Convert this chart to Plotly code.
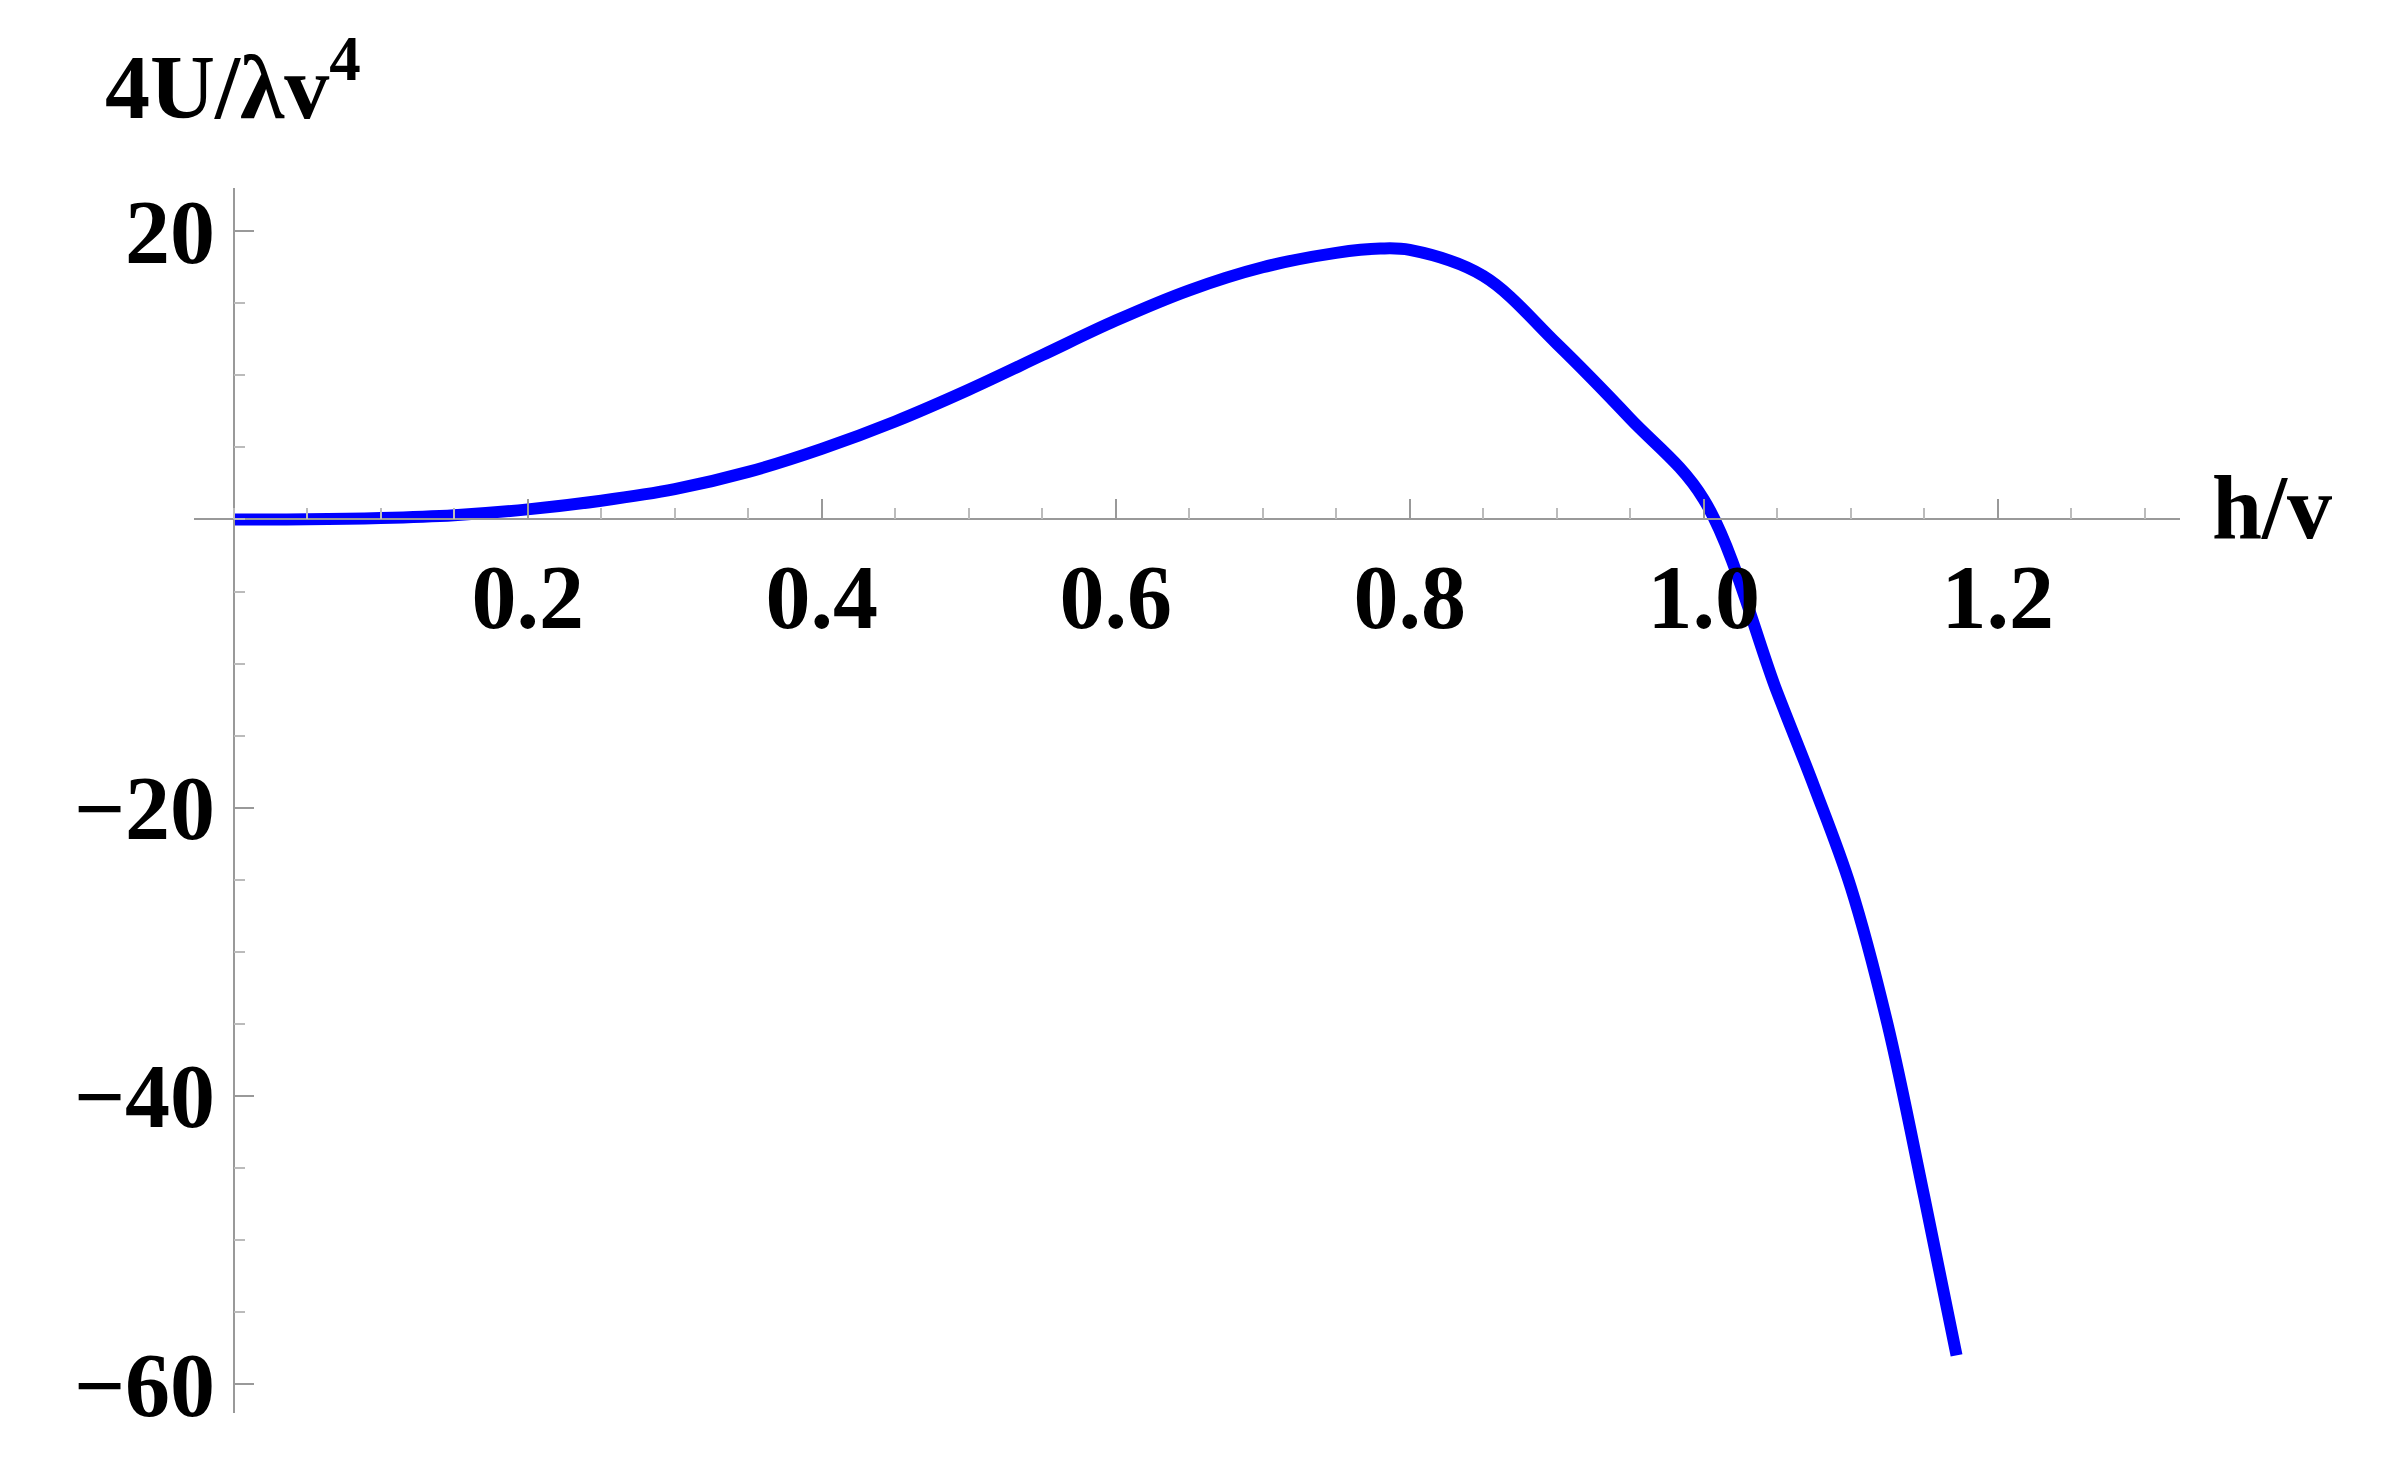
import plotly.graph_objects as go

h = [0.0, 0.05, 0.1, 0.15, 0.2, 0.25, 0.3, 0.35, 0.4, 0.45, 0.5, 0.55, 0.6, 0.65, 0.7, 0.75, 0.78, 0.8, 0.85, 0.9, 0.95, 1.0, 1.05, 1.075, 1.1, 1.125, 1.15, 1.172]
u = [0.0, 0.01, 0.1, 0.3, 0.7, 1.3, 2.1, 3.3, 4.9, 6.8, 9.0, 11.4, 13.8, 15.9, 17.5, 18.5, 18.8, 18.7, 16.9, 12.2, 7.0, 1.4, -12.0, -18.5, -25.5, -35.0, -47.0, -58.0]

xticks = [0.2, 0.4, 0.6, 0.8, 1.0, 1.2]
yticks = [-60, -40, -20, 20]

xr = [-0.027, 1.324]
yr = [-62, 23]
font = dict(family="Liberation Serif", size=90, color="black")

fig = go.Figure(go.Scatter(x=h, y=u, mode="lines", line=dict(color="#0000FF", width=12, shape="spline", smoothing=1.0)))
fig.update_layout(
    width=2383, height=1475, plot_bgcolor="white", paper_bgcolor="white",
    margin=dict(l=186, r=211, t=180, b=70), showlegend=False,
    font=font,
    xaxis=dict(range=xr, anchor="free", position=(0 - yr[0]) / (yr[1] - yr[0]),
               showline=True, linecolor="#999", linewidth=1.5, showgrid=False, zeroline=False,
               tickvals=xticks, ticktext=[f"<b>{t:.1f}</b>" for t in xticks],
               ticks="inside", ticklen=20, tickcolor="#999", tickwidth=1.5,
               minor=dict(dtick=0.05, ticks="inside", ticklen=11, tickcolor="#bbb", tickwidth=1.5),
               ticklabelstandoff=0),
    yaxis=dict(range=yr, anchor="free", position=(0 - xr[0]) / (xr[1] - xr[0]),
               showline=True, linecolor="#999", linewidth=1.5, showgrid=False, zeroline=False,
               tickvals=yticks, ticktext=[f"<b>{'−' if t < 0 else ''}{abs(t)}</b>" for t in yticks],
               ticks="inside", ticklen=20, tickcolor="#999", tickwidth=1.5,
               minor=dict(dtick=5, ticks="inside", ticklen=11, tickcolor="#bbb", tickwidth=1.5)),
    annotations=[
        dict(text="<b>4U/λv<sup>4</sup></b>", xref="paper", yref="paper", x=-0.046, y=1.04,
             xanchor="left", yanchor="bottom", showarrow=False, font=font),
        dict(text="<b>h/v</b>", xref="paper", yref="paper", x=1.015, y=(0 - yr[0]) / (yr[1] - yr[0]) + 0.01,
             xanchor="left", yanchor="middle", showarrow=False, font=font),
    ],
)
fig.write_html("out.html")
